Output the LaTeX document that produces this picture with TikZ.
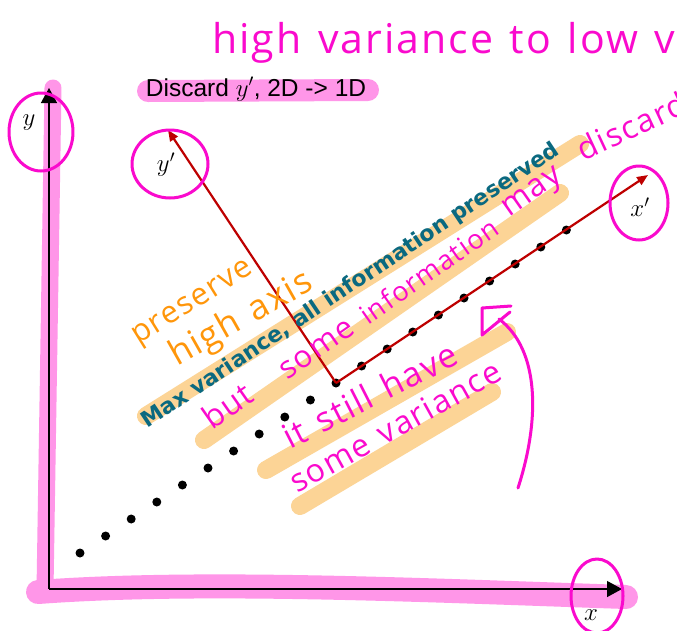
\documentclass[tikz,border=0pt]{standalone}
\usepackage{fontspec}
\newfontfamily\arial{Liberation Sans}
\newfontfamily\hand{Open Sans}[LetterSpace=5, WordSpace=1.3]
\newfontfamily\dvs{DejaVu Sans}
\usetikzlibrary{arrows.meta}
\definecolor{hlpink}{RGB}{255,150,232}
\definecolor{ink}{RGB}{250,10,205}
\definecolor{hlorange}{RGB}{252,212,150}
\definecolor{inkorange}{RGB}{255,150,10}
\definecolor{tealtext}{RGB}{10,105,128}
\definecolor{pcared}{RGB}{190,0,0}
\tikzset{
  pinkhl/.style={line width=#1, hlpink, line cap=round},
  orangehl/.style={line width=18pt, hlorange, line cap=round},
  axisline/.style={line width=1.3pt, -{Triangle[length=15pt,width=16pt]}},
  pcaaxis/.style={line width=2.2pt, pcared, -{Triangle[length=11pt,width=9pt]}},
  datadot/.style={circle, fill=black, inner sep=0pt, minimum size=9pt},
  loopline/.style={ink, line width=3pt, line cap=round, line join=round},
  handtext/.style={ink, inner sep=0pt, anchor=base west, font=\hand\fontsize{#1}{#1}\selectfont},
  orangetext/.style={inkorange, inner sep=0pt, anchor=base west, font=\hand\fontsize{#1}{#1}\selectfont},
  mathlabel/.style={inner sep=0pt, font=\fontsize{#1}{#1}\selectfont},
}
\begin{document}
\begin{tikzpicture}[x=1pt,y=-1pt]
\useasboundingbox (0,0) rectangle (677,630);
\clip (0,0) rectangle (677,630);
\fill[white] (0,0) rectangle (677,630);

% pink highlights
\coordinate (vA) at (53,88);
\coordinate (vB) at (45,590);
\coordinate (hA) at (38,592);
\coordinate (hB) at (626,597);
\coordinate (tA) at (148,91);
\coordinate (tB) at (368,90);
\draw[pinkhl=17pt] (vA) -- (vB);
\draw[pinkhl=24pt] (hA) .. controls (200,580) and (420,590) .. (hB);
\draw[pinkhl=22pt] (tA) -- (tB);

% orange highlights
\coordinate (b1a) at (146,416);
\coordinate (b1b) at (580,144);
\coordinate (b2a) at (204,440);
\coordinate (b2b) at (560,193);
\coordinate (b3a) at (266,470);
\coordinate (b3b) at (507,332);
\coordinate (b4a) at (300,506);
\coordinate (b4b) at (492,392);
\draw[orangehl] (b1a) -- (b1b);
\draw[orangehl] (b2a) -- (b2b);
\draw[orangehl] (b3a) -- (b3b);
\draw[orangehl] (b4a) -- (b4b);

% axes
\coordinate (O) at (49,589);
\coordinate (ytip) at (49,88);
\coordinate (xtip) at (622,589);
\draw[axisline] (O) -- (ytip);
\draw[axisline] (O) -- (xtip);

% data points
\foreach \k in {0,...,19}
  \node[datadot] (d\k) at ({80+25.6*\k},{553-17*\k}) {};

% principal axes
\coordinate (yptip) at (168,130);
\coordinate (xptip) at (648,175);
\draw[pcaaxis] (d10.center) -- (yptip);
\draw[pcaaxis] (d10.center) -- (xptip);

% labels
\node[mathlabel=26] (ylab) at (29,123) {$y$};
\node[mathlabel=25] (xlab) at (591,615) {$x$};
\node[mathlabel=25] (yplab) at (166,165) {$y'$};
\node[mathlabel=25] (xplab) at (640,207) {$x'$};

% title
\node[anchor=base, inner sep=0pt, font=\arial\fontsize{24.5}{28}\selectfont] (title) at (256,96) {Discard $y'$, 2D -> 1D};

% teal text
\node[rotate=33.7, inner sep=0pt, text=tealtext, font=\dvs\bfseries\fontsize{22}{24}\selectfont] (maxvar) at (351,286) {Max variance, all information preserved};

% magenta circles
\draw[loopline] (41,132) ellipse [x radius=32pt, y radius=39pt];
\draw[loopline] (597,596) ellipse [x radius=26pt, y radius=37pt];
\draw[loopline] (170,164) ellipse [x radius=38pt, y radius=34pt];
\draw[loopline] (639,203) ellipse [x radius=29pt, y radius=37pt];

% handwriting
\node[handtext=41] (hv) at (212,53) {high variance to low variance};
\node[handtext=32, rotate=35] (wbut) at (212,431) {but};
\node[handtext=31, rotate=35] (wsome) at (287,381) {some};
\node[handtext=27, rotate=35] (winfo) at (368,326) {information};
\node[handtext=32, rotate=35] (wmay) at (509,218) {may};
\node[handtext=32, rotate=25] (wdisc) at (583,162) {discard};
\node[handtext=34, rotate=27] (still) at (290,450) {it still have};
\node[handtext=32, rotate=29] (somev) at (297,494) {some variance};
\node[orangetext=31, rotate=32] (pres) at (138,345) {preserve};
\node[orangetext=35, rotate=29.5] (hax) at (177,367) {high axis};

% hand arrow
\coordinate (arrS) at (518,488);
\coordinate (arrE) at (499,319);
\coordinate (ahTip) at (482,308);
\coordinate (ahA) at (511,306);
\coordinate (ahB) at (482,335);
\coordinate (ahC) at (510,312);
\draw[loopline] (arrS) .. controls (540,420) and (540,350) .. (arrE);
\draw[loopline] (ahA) -- (ahTip) -- (ahB) -- (ahC);
\end{tikzpicture}
\end{document}
